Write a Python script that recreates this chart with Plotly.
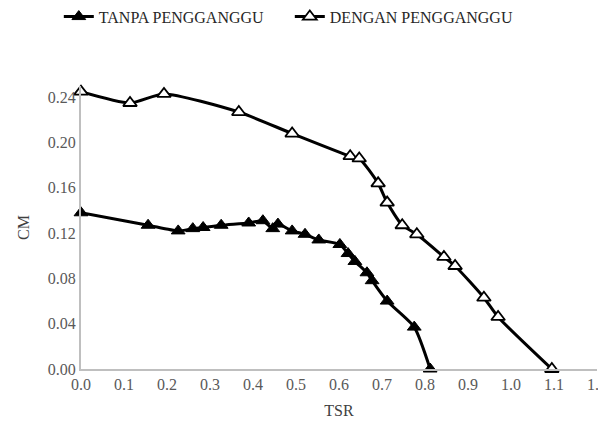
import plotly.graph_objects as go

tsr_tanpa = [0.0, 0.156, 0.226, 0.260, 0.284, 0.326, 0.390, 0.423, 0.446, 0.458,
             0.491, 0.521, 0.553, 0.602, 0.621, 0.637, 0.665, 0.677, 0.712, 0.775, 0.812]
cm_tanpa = [0.138, 0.127, 0.122, 0.124, 0.125, 0.127, 0.129, 0.131, 0.124, 0.128,
            0.122, 0.119, 0.114, 0.110, 0.102, 0.095, 0.085, 0.078, 0.060, 0.037, 0.000]

tsr_dengan = [0.0, 0.114, 0.193, 0.367, 0.491, 0.626, 0.647, 0.691, 0.712, 0.747,
              0.781, 0.844, 0.870, 0.937, 0.970, 1.095]
cm_dengan = [0.245, 0.235, 0.243, 0.227, 0.208, 0.188, 0.186, 0.164, 0.147, 0.127,
             0.119, 0.099, 0.091, 0.063, 0.046, 0.000]

x_ticks = [0.0, 0.1, 0.2, 0.3, 0.4, 0.5, 0.6, 0.7, 0.8, 0.9, 1.0, 1.1, 1.2]
y_ticks = [0.00, 0.04, 0.08, 0.12, 0.16, 0.20, 0.24]

FONT = "Times New Roman, Liberation Serif, DejaVu Serif, serif"

fig = go.Figure()
fig.add_trace(go.Scatter(
    x=tsr_tanpa, y=cm_tanpa, name="TANPA PENGGANGGU", mode="lines+markers",
    line=dict(color="black", width=3, shape="spline", smoothing=0.6),
    marker=dict(symbol="triangle-up", size=12, color="black",
                line=dict(color="black", width=1)),
    cliponaxis=False,
))
fig.add_trace(go.Scatter(
    x=tsr_dengan, y=cm_dengan, name="DENGAN PENGGANGGU", mode="lines+markers",
    line=dict(color="black", width=3, shape="spline", smoothing=0.6),
    marker=dict(symbol="triangle-up", size=12, color="white",
                line=dict(color="black", width=1.8)),
    cliponaxis=False,
))

fig.update_layout(
    width=598, height=416,
    margin=dict(l=73, r=9, t=78, b=55, autoexpand=False),
    paper_bgcolor="white", plot_bgcolor="white",
    font=dict(family=FONT, size=16, color="#595959"),
    showlegend=True,
    legend=dict(orientation="h", x=-0.043, xanchor="left", y=1.245, yanchor="middle",
                font=dict(family=FONT, size=16, color="#262626"),
                entrywidth=186, bgcolor="rgba(0,0,0,0)"),
    xaxis=dict(
        range=[0, 1.2], tickvals=x_ticks,
        ticktext=[f"{v:.1f}" for v in x_ticks], automargin=False,
        ticklabeloverflow="allow",
        showgrid=False, zeroline=False, showline=True, linecolor="#BFBFBF", linewidth=2,
        ticks="", title=dict(text="TSR", font=dict(family=FONT, size=16, color="#404040"), standoff=13),
    ),
    yaxis=dict(
        range=[0, 0.25], tickvals=y_ticks,
        ticktext=[f"{v:.2f}" for v in y_ticks], automargin=False,
        showgrid=False, zeroline=False, showline=True, linecolor="#BFBFBF", linewidth=2,
        ticks="", title=dict(text="CM", font=dict(family=FONT, size=16, color="#404040"), standoff=14),
    ),
)

fig.write_html("out.html")
